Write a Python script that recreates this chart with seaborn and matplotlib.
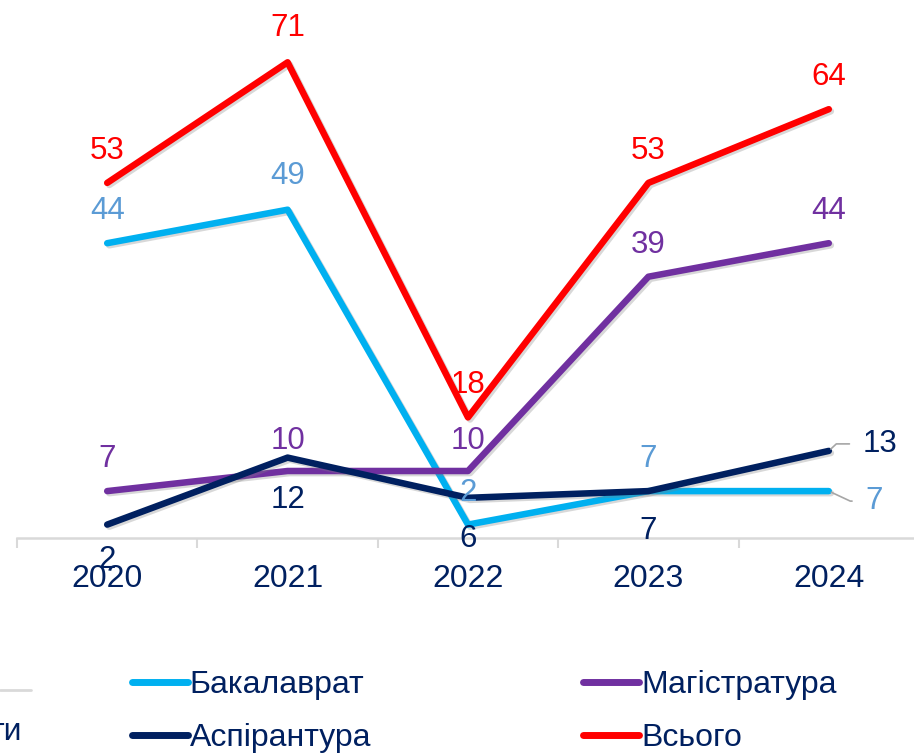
import matplotlib
matplotlib.use("Agg")
import matplotlib.pyplot as plt
import matplotlib.patheffects as pe
from matplotlib.lines import Line2D
import pandas as pd
import seaborn as sns

# дані з діаграми
years = [2020, 2021, 2022, 2023, 2024]
bakalavrat = [44, 49, 2, 7, 7]
magistratura = [7, 10, 10, 39, 44]
aspirantura = [2, 12, 6, 7, 13]
vsogo = [53, 71, 18, 53, 64]
series_names = ["Бакалаврат", "Магістратура", "Аспірантура", "Всього"]

NAVY = "#002060"
line_colors = {"Бакалаврат": "#00b0f0", "Магістратура": "#7030a0",
               "Аспірантура": NAVY, "Всього": "#ff0000"}
label_colors = {"Бакалаврат": "#5b9bd5", "Магістратура": "#7030a0",
                "Аспірантура": NAVY, "Всього": "#ff0000"}
# зсув підписів у пікселях (dx, dy)
label_offsets = {
    "Бакалаврат": [(0, 35), (0, 37), (0, 35), (0, 35), (45, -7)],
    "Магістратура": [(0, 35), (0, 33), (0, 33), (0, 35), (0, 35)],
    "Аспірантура": [(0, -32), (0, -39), (0, -38), (0, -37), (51, 10)],
    "Всього": [(0, 35), (0, 37), (0, 35), (0, 35), (0, 35)],
}
leaders = {("Бакалаврат", 4): -25, ("Аспірантура", 4): 43}

values = {"Бакалаврат": bakalavrat, "Магістратура": magistratura,
          "Аспірантура": aspirantura, "Всього": vsogo}
df = pd.concat(
    [pd.DataFrame({"year": years, "value": values[s], "series": s}) for s in series_names],
    ignore_index=True
)

sns.set_style("white")
plt.rcParams["font.family"] = ["Liberation Sans", "DejaVu Sans"]

fig = plt.figure(figsize=(9.14, 7.53), dpi=100)
ax = fig.add_axes([17 / 914, 215 / 753, 902 / 914, 536 / 753])

sns.lineplot(data=df, x="year", y="value", hue="series", hue_order=series_names,
             palette=line_colors, linewidth=4.7, legend=False, ax=ax)
for ln in ax.lines:
    ln.set_solid_capstyle("round")
    ln.set_path_effects([pe.SimpleLineShadow(offset=(1.5, -1.5), shadow_color="gray", alpha=0.3),
                         pe.Normal()])

for s in series_names:
    for i, (x, v) in enumerate(zip(years, values[s])):
        dx, dy = label_offsets[s][i]
        kw = {}
        if (s, i) in leaders:
            kw["arrowprops"] = dict(arrowstyle="-", color="#a6a6a6", lw=1.2,
                                    connectionstyle=f"angle,angleA=0,angleB={leaders[(s, i)]},rad=0",
                                    relpos=(0, 0.5), shrinkA=7, shrinkB=2)
        ax.annotate(str(v), (x, v), xytext=(dx, dy - 3), textcoords="offset pixels",
                    ha="center", va="center", fontsize=22.5, color=label_colors[s], **kw)

ax.set_xlim(2019.5, 2024.5)
ax.set_ylim(0, 80)
ax.set_xticks(years)
ax.set_xticklabels([str(y) for y in years])
ax.set_xticks([y - 0.5 for y in years] + [2024.5], minor=True)
ax.set_yticks([])
ax.set_xlabel("")
ax.set_ylabel("")
ax.tick_params(axis="x", which="major", bottom=False, length=0, pad=19, labelsize=23, labelcolor=NAVY)
ax.tick_params(axis="x", which="minor", bottom=True, length=7, width=1.5, color="#d9d9d9")
for side in ["top", "right", "left"]:
    ax.spines[side].set_visible(False)
ax.spines["bottom"].set_color("#d9d9d9")
ax.spines["bottom"].set_linewidth(1.8)

handles = [Line2D([], [], color=line_colors[s], lw=5, solid_capstyle="round") for s in series_names]
order = [0, 2, 1, 3]
fig.legend([handles[i] for i in order], [series_names[i] for i in order],
           ncol=2, loc="upper left", bbox_to_anchor=(132 / 914, 1 - 670 / 753),
           frameon=False, fontsize=23, labelcolor=NAVY, handlelength=1.75,
           handletextpad=0.05, columnspacing=6.65, labelspacing=0.72,
           borderpad=0, borderaxespad=0)

# обрізаний фрагмент сусіднього елемента зліва
fig.add_artist(Line2D([0, 31 / 914], [1 - 690 / 753] * 2, transform=fig.transFigure,
                      color="#d9d9d9", lw=2))
fig.text(22 / 914, 1 - 740 / 753, "ти", ha="right", va="baseline", fontsize=23, color=NAVY)

fig.savefig("out.png", dpi=100)
